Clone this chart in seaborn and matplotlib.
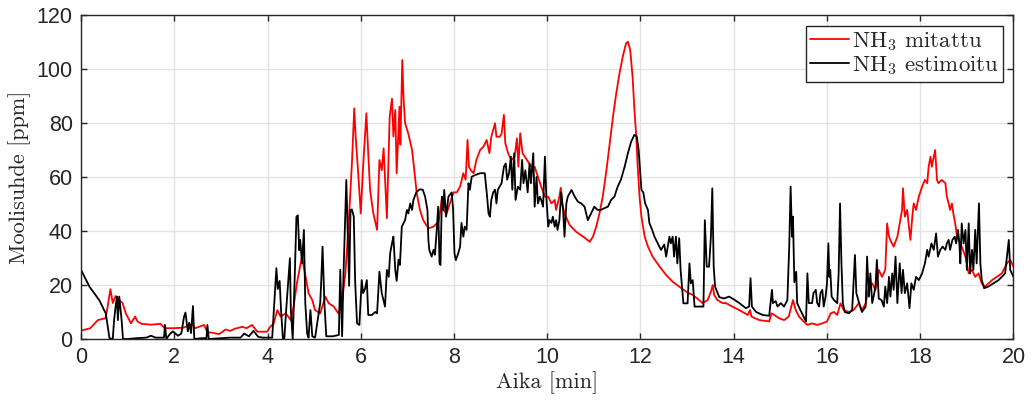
import numpy as np
import pandas as pd
import matplotlib
matplotlib.use("Agg")
import matplotlib.pyplot as plt
import seaborn as sns

# ---------------- data ----------------
t_meas = [0, 0.2, 0.36, 0.53, 0.63, 0.68, 0.74, 0.82, 0.89, 0.96, 1.07, 1.16, 1.21, 1.3, 1.5, 1.7,
          1.8, 2.0, 2.2, 2.38, 2.45, 2.64, 2.71, 2.78, 2.96, 3.1, 3.2, 3.3, 3.46, 3.55, 3.67, 3.78,
          3.99, 4.06, 4.13, 4.21, 4.28, 4.39, 4.5, 4.56, 4.63, 4.71, 4.74, 4.81, 4.88, 4.96, 5.02,
          5.13, 5.24, 5.31, 5.42, 5.52, 5.6, 5.67, 5.74, 5.81, 5.86, 5.89, 5.95, 6.0, 6.05, 6.12,
          6.16, 6.2, 6.24, 6.27, 6.35, 6.4, 6.45, 6.49, 6.56, 6.62, 6.67, 6.7, 6.74, 6.77, 6.83,
          6.85, 6.89, 6.92, 6.95, 7.02, 7.1, 7.14, 7.2, 7.27, 7.34, 7.45, 7.56, 7.67, 7.74, 7.77,
          7.84, 7.91, 7.99, 8.06, 8.13, 8.2, 8.25, 8.29, 8.32, 8.36, 8.42, 8.48, 8.56, 8.63, 8.7,
          8.76, 8.8, 8.88, 8.91, 8.98, 9.02, 9.07, 9.1, 9.16, 9.23, 9.3, 9.35, 9.38, 9.42, 9.47,
          9.52, 9.59, 9.66, 9.73, 9.8, 9.87, 9.95, 10.02, 10.09, 10.16, 10.19, 10.26, 10.29, 10.32,
          10.37, 10.48, 10.62, 10.77, 10.91, 10.98, 11.05, 11.12, 11.19, 11.27, 11.34, 11.41, 11.48,
          11.55, 11.62, 11.69, 11.73, 11.78, 11.83, 11.87, 11.91, 11.94, 11.98, 12.02, 12.09, 12.16,
          12.26, 12.41, 12.55, 12.69, 12.83, 12.98, 13.12, 13.26, 13.33, 13.44, 13.51, 13.55, 13.58,
          13.65, 13.76, 13.83, 13.97, 14.12, 14.3, 14.35, 14.38, 14.55, 14.76, 14.81, 14.87, 14.97,
          15.08, 15.18, 15.27, 15.33, 15.4, 15.5, 15.58, 15.68, 15.79, 15.9, 16.0, 16.08, 16.15,
          16.22, 16.29, 16.36, 16.47, 16.57, 16.68, 16.75, 16.83, 16.9, 16.97, 17.04, 17.11, 17.18,
          17.25, 17.29, 17.33, 17.36, 17.43, 17.51, 17.56, 17.61, 17.63, 17.67, 17.72, 17.75, 17.79,
          17.83, 17.86, 17.91, 17.97, 18.04, 18.1, 18.15, 18.18, 18.22, 18.25, 18.29, 18.32, 18.36,
          18.39, 18.46, 18.54, 18.57, 18.61, 18.64, 18.68, 18.71, 18.75, 18.79, 18.82, 18.89, 18.97,
          19.04, 19.11, 19.18, 19.25, 19.32, 19.39, 19.54, 19.64, 19.75, 19.86, 19.93, 20.0]
v_meas = [3.1, 4, 7, 7.7, 18.4, 13.3, 15.9, 14.4, 13.3, 9.5, 5.8, 8.3, 6.5, 5.6, 5.3, 5.6,
          4.0, 4.0, 4.2, 5.6, 4.0, 5.2, 2.4, 2.4, 1.8, 3.5, 3.0, 3.8, 4.5, 4.0, 5.2, 2.7,
          2.7, 4.6, 5.6, 10.7, 8.3, 9.5, 7, 12, 20.6, 28, 30.5, 23.7, 16.9, 14.4, 10.7,
          9.5, 15.7, 13.3, 12, 9.5, 14.4, 24.3, 42.8, 65, 85.4, 75, 60, 46.5, 63.8, 83.6,
          68.8, 55.2, 50, 46.5, 40.4, 66.3, 62.5, 70.6, 44.7, 82.3, 89, 75, 84.8, 61.4, 86,
          72, 103.3, 88.5, 80, 76, 70, 63.8, 54, 47.8, 44, 41, 41.6, 43.5, 52, 47.8,
          46.5, 50.2, 54.3, 54.3, 56.4, 61.4, 59, 73.7, 63.8, 62.5, 61.4, 66.3, 70, 71.2, 73.7,
          68.8, 74.9, 79.9, 74.9, 74.9, 76, 83, 72.5, 68.8, 66.3, 67.5, 74.3, 63.8, 76.2, 68.8,
          67.5, 65.7, 63.8, 63.8, 60, 56.4, 52.7, 52.7, 50.2, 51.5, 47.8, 52.7, 56, 50,
          46.5, 42.2, 39.7, 37.9, 36, 37.9, 41.6, 46.5, 52.7, 62.6, 72.5, 82.3, 91,
          98.4, 104.6, 109.5, 110.1, 107, 97.1, 84.8, 74.9, 63.8, 52.7, 45.3, 37.9, 34.2,
          30.5, 26.8, 23.7, 21.2, 19.4, 17.5, 16.3, 14.4, 13.3, 14.4, 17.5, 20, 16.3,
          14.4, 13.3, 13.3, 12, 10.7, 8.9, 10.7, 8.3, 7, 6.5, 9.5, 8.9, 7.7,
          7, 8.3, 14.4, 10.7, 8.3, 6.5, 5.2, 5.8, 5.2, 5.8, 6.5, 9.5, 10,
          8.9, 13.2, 10.7, 10, 10.7, 13.2, 10.7, 13.2, 19.4, 20.6, 18.2, 25.6, 23,
          25.6, 42.8, 37.9, 36.6, 34.2, 37.9, 42.8, 47.8, 55.8, 45.3, 47.8, 42.8, 36.7,
          45.3, 50.2, 47.8, 52.7, 56.4, 58.9, 57.7, 63.8, 67.5, 63.8, 67.5, 70, 58.9,
          57.7, 58.9, 57.7, 52.7, 50.2, 47.8, 50.2, 46.5, 42.8, 37.9, 36.7, 34.2, 30.5,
          24.3, 25.6, 23, 24.3, 20.6, 19.4, 21.8, 23, 24.3, 28, 29.3, 26.8]

t_est = [0, 0.18, 0.39, 0.53, 0.61, 0.68, 0.71, 0.75, 0.77, 0.79, 0.82, 0.87, 0.9, 1.0, 1.2, 1.4,
         1.5, 1.6, 1.78, 1.8, 1.83, 1.9, 1.97, 2.08, 2.15, 2.21, 2.24, 2.29, 2.32, 2.36, 2.4, 2.43,
         2.6, 2.69, 2.71, 2.74, 3.0, 3.2, 3.42, 3.5, 3.6, 3.7, 3.8, 3.9, 4.1, 4.19, 4.22, 4.26,
         4.29, 4.33, 4.36, 4.4, 4.48, 4.5, 4.54, 4.58, 4.62, 4.65, 4.68, 4.7, 4.74, 4.78, 4.81,
         4.85, 4.88, 4.92, 4.96, 5.02, 5.13, 5.15, 5.18, 5.22, 5.26, 5.4, 5.53, 5.56, 5.6, 5.63,
         5.67, 5.69, 5.71, 5.75, 5.78, 5.81, 5.85, 5.88, 5.92, 5.97, 6.02, 6.05, 6.09, 6.13, 6.16,
         6.24, 6.31, 6.35, 6.4, 6.45, 6.52, 6.56, 6.6, 6.63, 6.67, 6.7, 6.74, 6.77, 6.81, 6.84,
         6.88, 6.92, 6.95, 6.99, 7.02, 7.06, 7.1, 7.13, 7.19, 7.26, 7.33, 7.38, 7.43, 7.45, 7.47,
         7.52, 7.56, 7.59, 7.63, 7.66, 7.69, 7.71, 7.74, 7.77, 7.79, 7.83, 7.88, 7.95, 7.98, 8.01,
         8.04, 8.09, 8.13, 8.16, 8.2, 8.23, 8.27, 8.31, 8.34, 8.38, 8.45, 8.56, 8.66, 8.71, 8.74,
         8.77, 8.8, 8.84, 8.88, 8.91, 8.94, 9.02, 9.07, 9.11, 9.14, 9.18, 9.22, 9.25, 9.29, 9.32,
         9.37, 9.42, 9.46, 9.49, 9.53, 9.58, 9.62, 9.65, 9.7, 9.73, 9.77, 9.8, 9.84, 9.87, 9.91,
         9.95, 9.98, 10.02, 10.05, 10.09, 10.12, 10.16, 10.19, 10.22, 10.26, 10.3, 10.34, 10.37,
         10.41, 10.44, 10.52, 10.59, 10.66, 10.73, 10.8, 10.87, 10.94, 11.01, 11.08, 11.15, 11.22,
         11.3, 11.37, 11.44, 11.51, 11.58, 11.66, 11.73, 11.8, 11.87, 11.92, 11.96, 11.99, 12.02,
         12.06, 12.1, 12.16, 12.19, 12.25, 12.3, 12.37, 12.44, 12.51, 12.55, 12.62, 12.65, 12.69,
         12.72, 12.76, 12.79, 12.83, 12.86, 12.92, 13.01, 13.05, 13.08, 13.12, 13.16, 13.35, 13.38,
         13.42, 13.47, 13.51, 13.54, 13.57, 13.6, 13.69, 13.79, 13.9, 13.97, 14.12, 14.26, 14.33,
         14.36, 14.39, 14.48, 14.62, 14.76, 14.82, 14.84, 14.9, 14.94, 15.01, 15.08, 15.15, 15.19,
         15.22, 15.25, 15.27, 15.3, 15.34, 15.36, 15.43, 15.5, 15.55, 15.58, 15.61, 15.68, 15.71,
         15.76, 15.79, 15.83, 15.86, 15.9, 15.93, 15.97, 16.0, 16.03, 16.05, 16.07, 16.1, 16.15,
         16.22, 16.25, 16.28, 16.31, 16.34, 16.38, 16.47, 16.54, 16.57, 16.6, 16.63, 16.69, 16.75,
         16.83, 16.86, 16.9, 16.93, 16.97, 17.0, 17.04, 17.07, 17.11, 17.17, 17.22, 17.25, 17.29,
         17.33, 17.36, 17.4, 17.43, 17.47, 17.51, 17.56, 17.6, 17.63, 17.67, 17.72, 17.77, 17.81,
         17.86, 17.91, 17.97, 18.04, 18.1, 18.15, 18.18, 18.24, 18.29, 18.34, 18.38, 18.43, 18.48,
         18.54, 18.57, 18.61, 18.64, 18.69, 18.74, 18.77, 18.81, 18.84, 18.86, 18.89, 18.93, 18.97,
         19.0, 19.04, 19.07, 19.11, 19.14, 19.18, 19.21, 19.26, 19.29, 19.32, 19.37, 19.46, 19.57,
         19.68, 19.75, 19.82, 19.86, 19.9, 19.93, 20.0]
v_est = [25.6, 19.4, 14.4, 9.5, 0.3, 0, 7.2, 13.3, 15.7, 7, 15.7, 7, 0, 0, 0.3, 0.5,
         1.2, 0.5, 0.5, 5.2, 0, 1.7, 2.8, 1.2, 2, 8.3, 9.8, 2.8, 6, 2.2, 12.2, 0,
         0.3, 0.3, 5.2, 0, 0.3, 0.5, 0.5, 2, 1, 3, 0.8, 0.5, 0.5, 26.2, 18.5, 21.5,
         10.7, 0, 0, 10.7, 29.9, 10.7, 0, 21, 45.3, 45.8, 32.9, 36.7, 28, 40.4, 13.3,
         2, 0.5, 10.7, 1, 0.5, 13.3, 20.6, 34.2, 13.3, 1, 1, 1.5, 25.6, 1, 24.3,
         47.8, 58.9, 45.3, 19.7, 47.8, 48, 45.3, 21, 5.8, 5.2, 21.8, 17, 18.5, 21.8, 8.9,
         8.9, 10, 9.5, 24.9, 17, 12, 25.6, 23, 31.7, 35.4, 37.9, 25.6, 21.5, 29.4, 27.4,
         41.6, 43, 44, 47.8, 46.5, 50.2, 47.8, 51.5, 54.3, 55.4, 55.3, 52.7, 47.8, 36.7, 33,
         30.5, 33, 31.2, 40.4, 49, 28, 27.4, 52.7, 47.8, 55.2, 45.3, 52.7, 54.3, 48, 31.7,
         29.2, 31.7, 34.2, 43, 37.9, 41.6, 40.4, 57.7, 55.3, 60.1, 60.7, 61.4, 61.4, 52.7, 46.5,
         45.3, 51.5, 54.3, 55.3, 50.2, 55.3, 57.7, 63.8, 65, 59, 61.4, 67.5, 55.3, 68.8, 51.5,
         56.4, 55.3, 66.3, 57.7, 62.5, 54.3, 65, 57.7, 68.8, 49, 60, 50.2, 52.7, 51.5, 49,
         67.5, 52.7, 41.6, 44, 43, 45.3, 41.6, 44, 40.4, 44, 54.3, 47.8, 37.9,
         50.2, 52.7, 55.2, 52.7, 50.8, 50.2, 49, 44, 46.5, 49, 47.8, 47.8, 48.4,
         49, 51.5, 52.7, 56.4, 59, 63.8, 68.8, 73.1, 75.6, 75, 70, 62.6, 55.2,
         54.3, 50.2, 47.8, 43, 40.4, 37.9, 35.4, 33, 35, 30.5, 37.9, 35.4, 37.9,
         30.5, 37.9, 28, 37.3, 25.6, 13.2, 13.2, 28, 20.6, 21.8, 12, 12, 44,
         26.8, 26.8, 37.9, 55.8, 26.8, 19.4, 15.5, 15, 15.7, 15, 13.3, 11.4, 12,
         22.5, 12, 10, 8.9, 8.6, 18.2, 13.3, 14, 12, 13.3, 12, 14.4, 34.2,
         56.4, 37.9, 45.3, 21, 24.9, 13.3, 10.7, 8.3, 6.5, 24.3, 13.3, 13.3, 17,
         18.2, 13.3, 12, 17, 18.2, 12, 15.7, 20.6, 35.4, 23, 25.6, 15.7, 14.4,
         13.3, 24.3, 50.2, 28, 13.3, 10, 9.5, 10.7, 20.6, 31.1, 17, 13.3, 10,
         12, 30.5, 15.7, 24.3, 13.3, 15.7, 19.4, 29.3, 15, 14.4, 12, 19.4, 13.3,
         23, 15.7, 24.3, 18.2, 30.5, 13.3, 28, 17, 25.6, 17, 20.6, 11.4, 20.6,
         18.2, 23, 21.8, 24.3, 28, 33, 30.5, 35.4, 33, 39.1, 30.5, 33, 34.2,
         33, 35.4, 36.7, 33, 36.7, 37.9, 35.4, 40.4, 35.4, 28, 42.8, 35.4, 40.4,
         25.6, 42.8, 24.3, 33, 25.6, 40.4, 28, 50.2, 28, 21.8, 18.8, 19.4, 20.6,
         21.8, 23, 24.3, 30.5, 36.7, 25.6, 23]

series_labels = ["NH$_3$ mitattu", "NH$_3$ estimoitu"]
x_ticks = [0, 2, 4, 6, 8, 10, 12, 14, 16, 18, 20]
y_ticks = [0, 20, 40, 60, 80, 100, 120]

# ---------------- build table ----------------
df = pd.concat([
    pd.DataFrame({"t": t_meas, "v": v_meas, "series": series_labels[0]}),
    pd.DataFrame({"t": t_est, "v": v_est, "series": series_labels[1]}),
], ignore_index=True)

sns.set_theme(style="whitegrid")
plt.rcParams["mathtext.fontset"] = "cm"

fig = plt.figure(figsize=(10.35, 4.05), dpi=100)
ax = fig.add_axes([0.0783, 0.163, 0.9009, 0.800])

sns.lineplot(data=df, x="t", y="v", hue="series", estimator=None, sort=False,
             palette={series_labels[0]: "#ff0000", series_labels[1]: "#000000"},
             linewidth=1.3, ax=ax)

ax.set_xlim(0, 20)
ax.set_ylim(0, 120)
ax.set_xticks(x_ticks)
ax.set_yticks(y_ticks)
ax.set_facecolor("white")
ax.grid(True, color="#e3e3e3", linewidth=1.0)
for s in ax.spines.values():
    s.set_color("#262626")
    s.set_linewidth(1.0)
ax.tick_params(direction="in", length=4, width=1.0, color="#262626",
               top=True, right=True, bottom=True, left=True,
               labelsize=15.5, labelcolor="#262626", pad=6)
for lab in ax.get_xticklabels() + ax.get_yticklabels():
    lab.set_fontfamily("Liberation Sans")

ax.set_xlabel("Aika [min]", fontfamily="cmr10", fontsize=16, color="#262626", labelpad=2)
ax.set_ylabel("Moolisuhde [ppm]", fontfamily="cmr10", fontsize=16, color="#262626", labelpad=4)

handles, labels = ax.get_legend_handles_labels()
leg = ax.legend(handles, labels, loc="upper right", bbox_to_anchor=(0.989, 0.967),
                prop={"family": "cmr10", "size": 16.5}, frameon=True, fancybox=False,
                framealpha=1, edgecolor="#262626", borderpad=0.2, handlelength=1.7,
                handletextpad=0.1, labelspacing=0.05, borderaxespad=0)
leg.get_frame().set_linewidth(1.0)
for line in leg.get_lines():
    line.set_linewidth(1.3)

fig.savefig("out.png", dpi=100)
